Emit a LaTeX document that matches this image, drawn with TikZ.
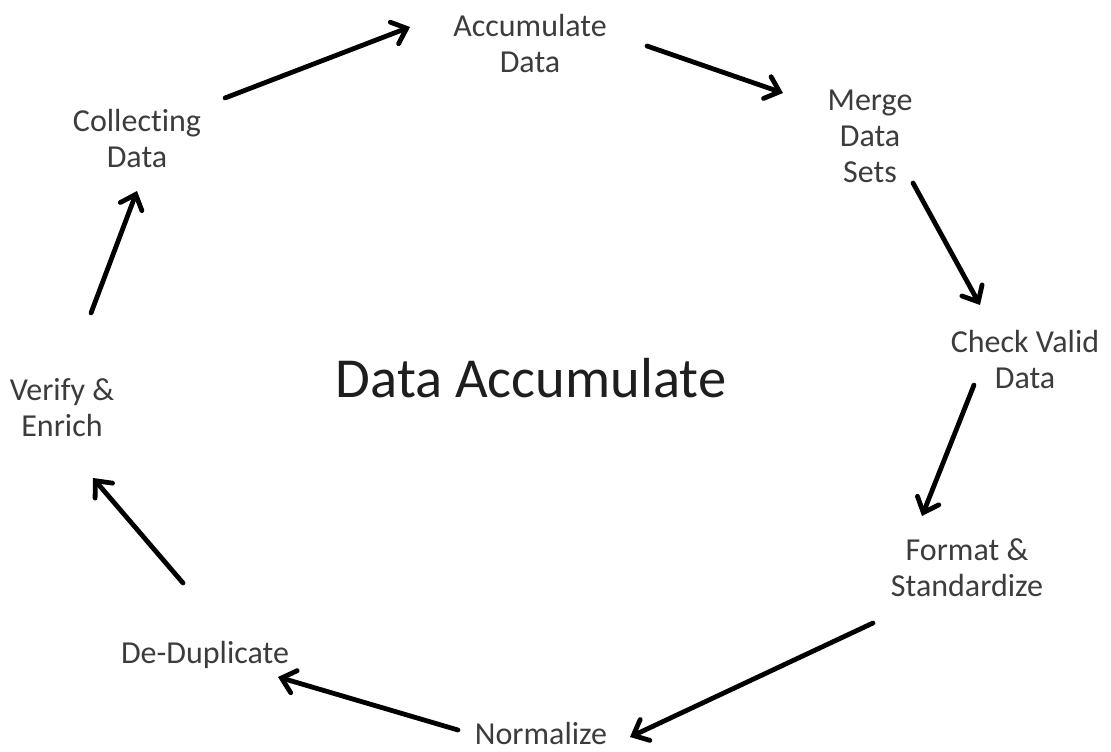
\documentclass[tikz,border=0pt]{standalone}
\usepackage{fontspec}
\setmainfont{Carlito}[Ligatures=NoCommon]
\usetikzlibrary{arrows.meta}
\definecolor{labelgray}{HTML}{3C3C3C}
\definecolor{titlegray}{HTML}{1E1E1E}
\tikzset{
  stage/.style={align=center, text=labelgray, inner sep=0pt,
    font=\fontsize{32}{36}\selectfont},
  flow/.style={line width=4.8pt, draw=black,
    -{Straight Barb[length=13pt,width=23pt,line cap=round]}, line cap=round},
}
\begin{document}
\begin{tikzpicture}[x=1pt,y=-1pt]
  \useasboundingbox (0,0) rectangle (1111,752);

  % process stages around the cycle
  \node[stage] (accum)   at (530,44)  {Accumulate\\Data};
  \node[stage] (merge)   at (870,136) {Merge\\Data\\Sets};
  \node[stage] (check)   at (1025,360) {Check Valid\\Data};
  \node[stage] (format)  at (967,568) {Format \&\\Standardize};
  \node[stage] (norm)    at (541,734) {Normalize};
  \node[stage] (dedup)   at (205,655) {De-Duplicate};
  \node[stage] (verify)  at (62,408)  {Verify \&\\Enrich};
  \node[stage] (collect) at (137,139) {Collecting\\Data};

  % title in the middle of the cycle
  \node[text=titlegray, inner sep=0pt, font=\fontsize{56.5}{64}\selectfont]
    (title) at (531,378) {Data Accumulate};

  % arrow ends between the stages
  \coordinate (c1a) at (225,98);  \coordinate (c1b) at (410,27);
  \coordinate (c2a) at (647,46);  \coordinate (c2b) at (783,93);
  \coordinate (c3a) at (913,183); \coordinate (c3b) at (980,305);
  \coordinate (c4a) at (974,385); \coordinate (c4b) at (922,516);
  \coordinate (c5a) at (873,623); \coordinate (c5b) at (630,737);
  \coordinate (c6a) at (458,730); \coordinate (c6b) at (278,677);
  \coordinate (c7a) at (183,583); \coordinate (c7b) at (93,478);
  \coordinate (c8a) at (91,313);  \coordinate (c8b) at (137,191);

  \draw[flow] (c1a) -- (c1b);
  \draw[flow] (c2a) -- (c2b);
  \draw[flow] (c3a) -- (c3b);
  \draw[flow] (c4a) -- (c4b);
  \draw[flow] (c5a) -- (c5b);
  \draw[flow] (c6a) -- (c6b);
  \draw[flow] (c7a) -- (c7b);
  \draw[flow] (c8a) -- (c8b);
\end{tikzpicture}
\end{document}
